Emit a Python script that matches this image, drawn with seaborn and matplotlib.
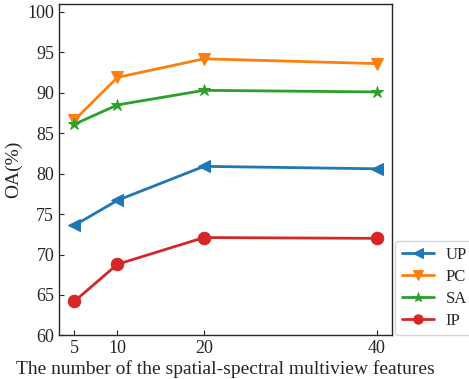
import numpy as np
import pandas as pd
import matplotlib
matplotlib.use("Agg")
import matplotlib.pyplot as plt
import seaborn as sns

features = [5, 10, 20, 40]
up = [73.6, 76.7, 80.9, 80.6]
pc = [86.6, 91.9, 94.2, 93.6]
sa = [86.1, 88.5, 90.3, 90.1]
ip = [64.2, 68.8, 72.1, 72.0]

sns.set_style("ticks")
plt.rcParams['font.family'] = ['Liberation Serif', 'DejaVu Serif']

series = {'UP': (up, '<', 'tab:blue'),
          'PC': (pc, 'v', 'tab:orange'),
          'SA': (sa, '*', 'tab:green'),
          'IP': (ip, 'o', 'tab:red')}

fig, ax = plt.subplots(figsize=(4.69, 3.79), dpi=100)
for name, (vals, mk, col) in series.items():
    sns.lineplot(x=features, y=vals, ax=ax, marker=mk, color=col, label=name,
                 linewidth=2, markersize=9, markeredgecolor=col)

ax.set_ylim(60, 101)
ax.set_xticks(features)
ax.set_yticks(range(60, 101, 5))
ax.tick_params(direction='in', labelsize=13)
ax.set_xlabel('The number of the spatial-spectral multiview features', fontsize=14, labelpad=2)
ax.set_ylabel('OA(%)', fontsize=14)
for s in ax.spines.values():
    s.set_linewidth(1.0)
ax.legend(loc='lower left', bbox_to_anchor=(1.01, 0.0), fontsize=12, borderaxespad=0,
          labelspacing=0.35, handlelength=1.9, markerscale=0.75, handletextpad=0.7)
fig.subplots_adjust(left=0.126, right=0.836, top=0.99, bottom=0.115)
fig.savefig('out.png', dpi=100)
